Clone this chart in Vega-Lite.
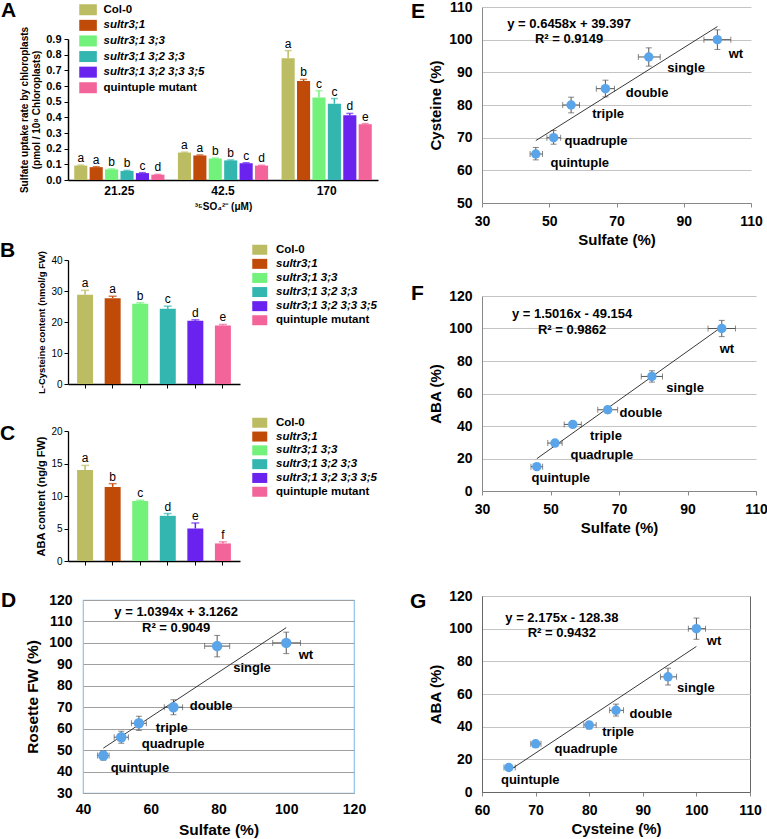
{
"$schema": "https://vega.github.io/schema/vega-lite/v6.json",
"background": "white",
"padding": {"left": 0, "top": 0, "right": 0, "bottom": 0},
"config": {
  "font": "Liberation Sans",
  "view": {"stroke": null},
  "axis": {"labelColor": "black", "titleColor": "black", "domainColor": "black", "tickColor": "black", "grid": false, "labelFont": "Liberation Sans", "titleFont": "Liberation Sans", "labelOverlap": false, "tickCount": 40},
  "title": {"anchor": "start", "frame": "group", "fontSize": 21, "fontWeight": "bold", "baseline": "middle", "offset": 0, "color": "black", "font": "Liberation Sans"},
  "legend": {"padding": 0, "labelFont": "Liberation Sans", "labelColor": "black"},
  "text": {"font": "Liberation Sans"}
},
"datasets": {
  "barsA": [
    {"conc": "21.25", "geno": "Col-0", "v": 0.092, "hi": 0.095, "lab": "a"},
    {"conc": "21.25", "geno": "sultr3;1", "v": 0.082, "hi": 0.085, "lab": "a"},
    {"conc": "21.25", "geno": "sultr3;1 3;3", "v": 0.068, "hi": 0.071, "lab": "b"},
    {"conc": "21.25", "geno": "sultr3;1 3;2 3;3", "v": 0.058, "hi": 0.061, "lab": "b"},
    {"conc": "21.25", "geno": "sultr3;1 3;2 3;3 3;5", "v": 0.044, "hi": 0.047, "lab": "c"},
    {"conc": "21.25", "geno": "quintuple mutant", "v": 0.034, "hi": 0.036, "lab": "d"},
    {"conc": "42.5", "geno": "Col-0", "v": 0.175, "hi": 0.178, "lab": "a"},
    {"conc": "42.5", "geno": "sultr3;1", "v": 0.157, "hi": 0.16, "lab": "a"},
    {"conc": "42.5", "geno": "sultr3;1 3;3", "v": 0.137, "hi": 0.14, "lab": "b"},
    {"conc": "42.5", "geno": "sultr3;1 3;2 3;3", "v": 0.125, "hi": 0.128, "lab": "b"},
    {"conc": "42.5", "geno": "sultr3;1 3;2 3;3 3;5", "v": 0.107, "hi": 0.11, "lab": "c"},
    {"conc": "42.5", "geno": "quintuple mutant", "v": 0.092, "hi": 0.094, "lab": "d"},
    {"conc": "170", "geno": "Col-0", "v": 0.777, "hi": 0.826, "lab": "a"},
    {"conc": "170", "geno": "sultr3;1", "v": 0.632, "hi": 0.642, "lab": "b"},
    {"conc": "170", "geno": "sultr3;1 3;3", "v": 0.527, "hi": 0.57, "lab": "c"},
    {"conc": "170", "geno": "sultr3;1 3;2 3;3", "v": 0.487, "hi": 0.52, "lab": "c"},
    {"conc": "170", "geno": "sultr3;1 3;2 3;3 3;5", "v": 0.413, "hi": 0.425, "lab": "d"},
    {"conc": "170", "geno": "quintuple mutant", "v": 0.356, "hi": 0.36, "lab": "e"}
  ],
  "barsB": [
    {"geno": "Col-0", "v": 28.8, "hi": 30.2, "lab": "a"},
    {"geno": "sultr3;1", "v": 27.7, "hi": 28.3, "lab": "a"},
    {"geno": "sultr3;1 3;3", "v": 25.9, "hi": 26.2, "lab": "b"},
    {"geno": "sultr3;1 3;2 3;3", "v": 24.3, "hi": 25.1, "lab": "c"},
    {"geno": "sultr3;1 3;2 3;3 3;5", "v": 20.4, "hi": 20.7, "lab": "d"},
    {"geno": "quintuple mutant", "v": 18.9, "hi": 19.2, "lab": "e"}
  ],
  "barsC": [
    {"geno": "Col-0", "v": 14.0, "hi": 14.7, "lab": "a"},
    {"geno": "sultr3;1", "v": 11.4, "hi": 11.9, "lab": "b"},
    {"geno": "sultr3;1 3;3", "v": 9.25, "hi": 9.35, "lab": "c"},
    {"geno": "sultr3;1 3;2 3;3", "v": 6.95, "hi": 7.3, "lab": "d"},
    {"geno": "sultr3;1 3;2 3;3 3;5", "v": 5.0, "hi": 5.85, "lab": "e"},
    {"geno": "quintuple mutant", "v": 2.7, "hi": 2.95, "lab": "f"}
  ],
  "dPts": [
    {"name": "wt", "x": 100, "y": 100, "xlo": 96, "xhi": 104.2, "ylo": 95, "yhi": 105, "lx": 105.8, "ly": 94.4},
    {"name": "single", "x": 79.6, "y": 98.5, "xlo": 75.9, "xhi": 83.3, "ylo": 93.5, "yhi": 103.5, "lx": 89.9, "ly": 88.3},
    {"name": "double", "x": 66.7, "y": 70, "xlo": 64, "xhi": 69.4, "ylo": 66.5, "yhi": 73.5, "lx": 77.8, "ly": 70.6},
    {"name": "triple", "x": 56.5, "y": 62.5, "xlo": 54.3, "xhi": 58.7, "ylo": 59.2, "yhi": 65.8, "lx": 66.2, "ly": 60.3},
    {"name": "quadruple", "x": 51.3, "y": 56, "xlo": 49.2, "xhi": 53.4, "ylo": 53.2, "yhi": 58.8, "lx": 66.6, "ly": 52.8},
    {"name": "quintuple", "x": 46, "y": 47.5, "xlo": 44.3, "xhi": 47.7, "ylo": 45.3, "yhi": 49.7, "lx": 56.8, "ly": 41.7}
  ],
  "dTrend": [{"x": 46, "y": 50.9}, {"x": 100, "y": 107.1}],
  "dEq": [{"x": 67.5, "y": 114.4, "t": "y = 1.0394x + 3.1262"}, {"x": 67.5, "y": 106.9, "t": "R² = 0.9049"}],
  "ePts": [
    {"name": "wt", "x": 100, "y": 100, "xlo": 96, "xhi": 104, "ylo": 97, "yhi": 103, "lx": 105.5, "ly": 95.6},
    {"name": "single", "x": 79.6, "y": 94.7, "xlo": 76.5, "xhi": 83, "ylo": 91.9, "yhi": 97.5, "lx": 90.7, "ly": 91.3},
    {"name": "double", "x": 66.7, "y": 85, "xlo": 64, "xhi": 69.4, "ylo": 82.5, "yhi": 87.6, "lx": 79.1, "ly": 83.7},
    {"name": "triple", "x": 56.5, "y": 80, "xlo": 54, "xhi": 59, "ylo": 77.6, "yhi": 82.4, "lx": 67.5, "ly": 77.2},
    {"name": "quadruple", "x": 51.3, "y": 70, "xlo": 49.3, "xhi": 53.4, "ylo": 68, "yhi": 72.2, "lx": 63.9, "ly": 69},
    {"name": "quintuple", "x": 46, "y": 65, "xlo": 44.3, "xhi": 48, "ylo": 63.2, "yhi": 67, "lx": 59.1, "ly": 62.2}
  ],
  "eTrend": [{"x": 46, "y": 69.1}, {"x": 100, "y": 104.0}],
  "eEq": [{"x": 55.9, "y": 104.9, "t": "y = 0.6458x + 39.397"}, {"x": 55.9, "y": 100.3, "t": "R² = 0.9149"}],
  "fPts": [
    {"name": "wt", "x": 100, "y": 100, "xlo": 96, "xhi": 104, "ylo": 95, "yhi": 105, "lx": 101.5, "ly": 87.4},
    {"name": "single", "x": 79.6, "y": 70.5, "xlo": 76.5, "xhi": 82.7, "ylo": 67, "yhi": 74, "lx": 89.3, "ly": 63.4},
    {"name": "double", "x": 66.7, "y": 50, "xlo": 63.8, "xhi": 69.6, "ylo": 48, "yhi": 52, "lx": 76.4, "ly": 48},
    {"name": "triple", "x": 56.5, "y": 41, "xlo": 54, "xhi": 59, "ylo": 39.5, "yhi": 42.5, "lx": 66.2, "ly": 33.8},
    {"name": "quadruple", "x": 51.3, "y": 29.5, "xlo": 49.2, "xhi": 53.4, "ylo": 28, "yhi": 31, "lx": 65, "ly": 22.2},
    {"name": "quintuple", "x": 46, "y": 15, "xlo": 44.3, "xhi": 47.7, "ylo": 14, "yhi": 16, "lx": 53, "ly": 8}
  ],
  "fTrend": [{"x": 46, "y": 19.9}, {"x": 100, "y": 101.0}],
  "fEq": [{"x": 56.3, "y": 108.9, "t": "y = 1.5016x - 49.154"}, {"x": 56.3, "y": 99.1, "t": "R² = 0.9862"}],
  "gPts": [
    {"name": "wt", "x": 100, "y": 100, "xlo": 98.5, "xhi": 101.7, "ylo": 93.5, "yhi": 106.5, "lx": 103.3, "ly": 92.4},
    {"name": "single", "x": 94.7, "y": 70.5, "xlo": 93.3, "xhi": 96.3, "ylo": 65.5, "yhi": 75.8, "lx": 99.9, "ly": 63.7},
    {"name": "double", "x": 85, "y": 50, "xlo": 83.8, "xhi": 86.4, "ylo": 46.5, "yhi": 53.8, "lx": 91.5, "ly": 47.8},
    {"name": "triple", "x": 80, "y": 41, "xlo": 79, "xhi": 81.3, "ylo": 38.6, "yhi": 42.8, "lx": 85.4, "ly": 36.7},
    {"name": "quadruple", "x": 70, "y": 29.5, "xlo": 69.1, "xhi": 71, "ylo": 28.2, "yhi": 30.8, "lx": 79.4, "ly": 26.3},
    {"name": "quintuple", "x": 65, "y": 15, "xlo": 64.1, "xhi": 66.2, "ylo": 14, "yhi": 16, "lx": 69, "ly": 7.3}
  ],
  "gTrend": [{"x": 65, "y": 13.0}, {"x": 100, "y": 89.1}],
  "gEq": [{"x": 74.9, "y": 106.5, "t": "y = 2.175x - 128.38"}, {"x": 74.9, "y": 97.3, "t": "R² = 0.9432"}]
},
"resolve": {"scale": {"color": "independent"}, "legend": {"color": "independent"}},
"columns": 2,
"spacing": 31,
"concat": [
  {
    "columns": 1,
    "spacing": 29,
    "resolve": {"scale": {"color": "independent"}, "legend": {"color": "independent"}},
    "concat": [
      {
        "bounds": "flush",
        "spacing": 31,
        "resolve": {"scale": {"color": "independent"}, "legend": {"color": "independent"}},
        "vconcat": [
          {"width": 1, "height": 1, "data": {"values": []}, "mark": "point"},
          {
            "width": 310, "height": 141,
            "title": {"text": "A", "dx": -67, "dy": 21},
            "data": {"name": "barsA"},
            "encoding": {
              "x": {"field": "conc", "type": "nominal", "sort": ["21.25", "42.5", "170"], "scale": {"paddingInner": 0.13, "paddingOuter": 0.06},
                    "axis": {"title": "³⁵SO₄²⁻ (μM)", "labelAngle": 0, "labelFontSize": 12, "labelFontWeight": "bold", "ticks": false, "titleFontSize": 10, "titleFontWeight": "bold", "labelPadding": 5, "titlePadding": 5, "domainWidth": 1.5}},
              "xOffset": {"field": "geno", "type": "nominal", "sort": ["Col-0", "sultr3;1", "sultr3;1 3;3", "sultr3;1 3;2 3;3", "sultr3;1 3;2 3;3 3;5", "quintuple mutant"], "scale": {"paddingInner": 0.15}},
              "color": {"field": "geno", "type": "nominal",
                        "scale": {"domain": ["Col-0", "sultr3;1", "sultr3;1 3;3", "sultr3;1 3;2 3;3", "sultr3;1 3;2 3;3 3;5", "quintuple mutant"], "range": ["#bcbc62", "#c04a08", "#72f27a", "#34b6b0", "#6a22ee", "#f2649a"]},
                        "legend": {"orient": "none", "legendX": 14.3, "legendY": -35, "title": null, "symbolType": "M-1.6,-1L1.6,-1L1.6,1L-1.6,1Z", "symbolSize": 121, "symbolStrokeWidth": 0, "symbolOpacity": 1, "labelFontSize": 11.5, "labelFontWeight": "bold", "labelFontStyle": {"expr": "indexof(['Col-0','quintuple mutant'], datum.label) >= 0 ? 'normal' : 'italic'"}, "rowPadding": 2.6, "labelOffset": 9.7}}
            },
            "layer": [
              {"mark": {"type": "bar"},
               "encoding": {"y": {"field": "v", "type": "quantitative", "scale": {"domain": [0, 0.9], "nice": false},
                                  "axis": {"title": ["Sulfate uptake rate by chloroplasts", "(pmol / 10⁸ Chloroplasts)"], "values": [0, 0.1, 0.2, 0.3, 0.4, 0.5, 0.6, 0.7, 0.8, 0.9], "format": ".1f", "labelFontSize": 11, "labelFontWeight": "bold", "titleFontSize": 10, "titleFontWeight": "bold", "tickSize": 4, "domainWidth": 1.5, "titlePadding": 4, "labelPadding": 3}}}},
              {"mark": {"type": "rule", "strokeWidth": 1.5},
               "encoding": {"y": {"field": "v", "type": "quantitative"}, "y2": {"field": "hi"}}},
              {"mark": {"type": "tick", "thickness": 1.5, "size": 7},
               "encoding": {"y": {"field": "hi", "type": "quantitative"}}},
              {"mark": {"type": "text", "baseline": "alphabetic", "dy": -3, "fontSize": 12},
               "encoding": {"y": {"field": "hi", "type": "quantitative"}, "text": {"field": "lab"}, "color": {"value": "black"}}}
            ]
          }
        ]
      },
      {
        "columns": 1,
        "spacing": 23,
        "resolve": {"scale": {"color": "independent"}, "legend": {"color": "independent"}},
        "concat": [
          {
            "columns": 1,
            "spacing": 23,
            "resolve": {"scale": {"color": "independent"}, "legend": {"color": "independent"}},
            "concat": [
              {
                "width": 172, "height": 124,
                "title": {"text": "B", "dx": -68, "dy": 21},
                "data": {"name": "barsB"},
                "encoding": {
                  "x": {"field": "geno", "type": "nominal", "sort": ["Col-0", "sultr3;1", "sultr3;1 3;3", "sultr3;1 3;2 3;3", "sultr3;1 3;2 3;3 3;5", "quintuple mutant"], "scale": {"paddingInner": 0.42, "paddingOuter": 0.33},
                        "axis": {"title": null, "labels": false, "ticks": true, "tickSize": 4, "domainWidth": 1.3}},
                  "color": {"field": "geno", "type": "nominal",
                            "scale": {"domain": ["Col-0", "sultr3;1", "sultr3;1 3;3", "sultr3;1 3;2 3;3", "sultr3;1 3;2 3;3 3;5", "quintuple mutant"], "range": ["#bcbc62", "#c04a08", "#72f27a", "#34b6b0", "#6a22ee", "#f2649a"]},
                            "legend": {"orient": "none", "legendX": 186, "legendY": -16, "title": null, "symbolType": "M-1.5,-1L1.5,-1L1.5,1L-1.5,1Z", "symbolSize": 100, "symbolStrokeWidth": 0, "symbolOpacity": 1, "labelFontSize": 11.5, "labelFontWeight": "bold", "labelFontStyle": {"expr": "indexof(['Col-0','quintuple mutant'], datum.label) >= 0 ? 'normal' : 'italic'"}, "rowPadding": 1.1, "labelOffset": 10.5}}
                },
                "layer": [
                  {"mark": {"type": "bar"},
                   "encoding": {"y": {"field": "v", "type": "quantitative", "scale": {"domain": [0, 40], "nice": false},
                                      "axis": {"title": "L-Cysteine content (nmol/g FW)", "values": [0, 10, 20, 30, 40], "format": "d", "labelFontSize": 10, "titleFontSize": 9.5, "titleFontWeight": "bold", "tickSize": 4, "domainWidth": 1.3, "titlePadding": 4, "labelPadding": 2}}}},
                  {"mark": {"type": "rule", "strokeWidth": 1.5},
                   "encoding": {"y": {"field": "v", "type": "quantitative"}, "y2": {"field": "hi"}}},
                  {"mark": {"type": "tick", "thickness": 1.5, "size": 8},
                   "encoding": {"y": {"field": "hi", "type": "quantitative"}}},
                  {"mark": {"type": "text", "baseline": "alphabetic", "dy": -3, "fontSize": 12},
                   "encoding": {"y": {"field": "hi", "type": "quantitative"}, "text": {"field": "lab"}, "color": {"value": "black"}}}
                ]
              },
              {
                "width": 172, "height": 130,
                "title": {"text": "C", "dx": -68, "dy": 31},
                "data": {"name": "barsC"},
                "encoding": {
                  "x": {"field": "geno", "type": "nominal", "sort": ["Col-0", "sultr3;1", "sultr3;1 3;3", "sultr3;1 3;2 3;3", "sultr3;1 3;2 3;3 3;5", "quintuple mutant"], "scale": {"paddingInner": 0.42, "paddingOuter": 0.33},
                        "axis": {"title": null, "labels": false, "ticks": true, "tickSize": 4, "domainWidth": 1.3}},
                  "color": {"field": "geno", "type": "nominal",
                            "scale": {"domain": ["Col-0", "sultr3;1", "sultr3;1 3;3", "sultr3;1 3;2 3;3", "sultr3;1 3;2 3;3 3;5", "quintuple mutant"], "range": ["#bcbc62", "#c04a08", "#72f27a", "#34b6b0", "#6a22ee", "#f2649a"]},
                            "legend": {"orient": "none", "legendX": 186, "legendY": -14, "title": null, "symbolType": "M-1.5,-1L1.5,-1L1.5,1L-1.5,1Z", "symbolSize": 100, "symbolStrokeWidth": 0, "symbolOpacity": 1, "labelFontSize": 11.5, "labelFontWeight": "bold", "labelFontStyle": {"expr": "indexof(['Col-0','quintuple mutant'], datum.label) >= 0 ? 'normal' : 'italic'"}, "rowPadding": 0.8, "labelOffset": 10.5}}
                },
                "layer": [
                  {"mark": {"type": "bar"},
                   "encoding": {"y": {"field": "v", "type": "quantitative", "scale": {"domain": [0, 20], "nice": false},
                                      "axis": {"title": "ABA content (ng/g FW)", "values": [0, 5, 10, 15, 20], "format": "d", "labelFontSize": 10, "titleFontSize": 11, "titleFontWeight": "bold", "tickSize": 4, "domainWidth": 1.3, "titlePadding": 4, "labelPadding": 2}}}},
                  {"mark": {"type": "rule", "strokeWidth": 1.5},
                   "encoding": {"y": {"field": "v", "type": "quantitative"}, "y2": {"field": "hi"}}},
                  {"mark": {"type": "tick", "thickness": 1.5, "size": 8},
                   "encoding": {"y": {"field": "hi", "type": "quantitative"}}},
                  {"mark": {"type": "text", "baseline": "alphabetic", "dy": -3, "fontSize": 12},
                   "encoding": {"y": {"field": "hi", "type": "quantitative"}, "text": {"field": "lab"}, "color": {"value": "black"}}}
                ]
              }
            ]
          },
          {
            "bounds": "flush",
            "spacing": 14,
            "hconcat": [
              {"width": 1, "height": 1, "data": {"values": []}, "mark": "point"},
              {
                "width": 271, "height": 193,
                "title": {"text": "D", "dx": -82, "dy": 22},
                "view": {"stroke": "#8ec3e8", "strokeWidth": 1.2},
                "layer": [
                  {"data": {"name": "dPts"}, "mark": {"type": "rule", "color": "#555", "strokeWidth": 1},
                   "encoding": {
                     "x": {"field": "xlo", "type": "quantitative", "title": "Sulfate (%)", "scale": {"domain": [40, 120], "nice": false, "zero": false},
                           "axis": {"values": [40, 60, 80, 100, 120], "format": "d", "domain": false, "ticks": false, "labelFontSize": 14, "labelFontWeight": "bold", "titleFontSize": 15.5, "titleFontWeight": "bold", "labelPadding": 9, "titlePadding": 6, "labelFlush": false}},
                     "x2": {"field": "xhi"},
                     "y": {"field": "y", "type": "quantitative", "title": "Rosette FW (%)", "scale": {"domain": [30, 120], "nice": false, "zero": false},
                           "axis": {"values": [30, 40, 50, 60, 70, 80, 90, 100, 110, 120], "format": "d", "grid": true, "gridColor": "#a0a0a0", "domain": false, "ticks": false, "labelFontSize": 14, "labelFontWeight": "bold", "titleFontSize": 15.5, "titleFontWeight": "bold", "labelPadding": 11, "titlePadding": 8}}}},
                  {"data": {"name": "dPts"}, "mark": {"type": "rule", "color": "#555", "strokeWidth": 1},
                   "encoding": {"x": {"field": "x", "type": "quantitative", "title": "Sulfate (%)"}, "y": {"field": "ylo", "type": "quantitative", "title": "Rosette FW (%)"}, "y2": {"field": "yhi"}}},
                  {"data": {"name": "dPts"}, "transform": [{"fold": ["xlo", "xhi"], "as": ["k", "v"]}], "mark": {"type": "tick", "orient": "vertical", "color": "#555", "size": 6, "thickness": 1},
                   "encoding": {"x": {"field": "v", "type": "quantitative", "title": "Sulfate (%)"}, "y": {"field": "y", "type": "quantitative", "title": "Rosette FW (%)"}}},
                  {"data": {"name": "dPts"}, "transform": [{"fold": ["ylo", "yhi"], "as": ["k", "v"]}], "mark": {"type": "tick", "orient": "horizontal", "color": "#555", "size": 6, "thickness": 1},
                   "encoding": {"x": {"field": "x", "type": "quantitative", "title": "Sulfate (%)"}, "y": {"field": "v", "type": "quantitative", "title": "Rosette FW (%)"}}},
                  {"data": {"name": "dTrend"}, "mark": {"type": "line", "color": "#222", "strokeWidth": 0.9},
                   "encoding": {"x": {"field": "x", "type": "quantitative", "title": "Sulfate (%)"}, "y": {"field": "y", "type": "quantitative", "title": "Rosette FW (%)"}}},
                  {"data": {"name": "dPts"}, "mark": {"type": "circle", "size": 110, "color": "#5aa5ea", "opacity": 1},
                   "encoding": {"x": {"field": "x", "type": "quantitative", "title": "Sulfate (%)"}, "y": {"field": "y", "type": "quantitative", "title": "Rosette FW (%)"}}},
                  {"data": {"name": "dPts"}, "mark": {"type": "text", "fontSize": 13, "fontWeight": "bold", "align": "center", "baseline": "middle"},
                   "encoding": {"x": {"field": "lx", "type": "quantitative", "title": "Sulfate (%)"}, "y": {"field": "ly", "type": "quantitative", "title": "Rosette FW (%)"}, "text": {"field": "name"}}},
                  {"data": {"name": "dEq"}, "mark": {"type": "text", "fontSize": 13, "fontWeight": "bold", "align": "center", "baseline": "middle"},
                   "encoding": {"x": {"field": "x", "type": "quantitative", "title": "Sulfate (%)"}, "y": {"field": "y", "type": "quantitative", "title": "Rosette FW (%)"}, "text": {"field": "t"}}}
                ]
              }
            ]
          }
        ]
      }
    ]
  },
  {
    "columns": 1,
    "spacing": 36,
    "concat": [
      {
        "width": 269, "height": 196,
        "title": {"text": "E", "dx": -71, "dy": 26},
        "layer": [
          {"data": {"name": "ePts"}, "mark": {"type": "rule", "color": "#555", "strokeWidth": 1},
           "encoding": {
             "x": {"field": "xlo", "type": "quantitative", "title": "Sulfate (%)", "scale": {"domain": [30, 110], "nice": false, "zero": false},
                   "axis": {"values": [30, 50, 70, 90, 110], "format": "d", "domainColor": "#888", "tickColor": "#888", "tickSize": 4, "labelFontSize": 14, "labelFontWeight": "bold", "titleFontSize": 15, "titleFontWeight": "bold", "labelPadding": 7, "titlePadding": 4, "labelFlush": false}},
             "x2": {"field": "xhi"},
             "y": {"field": "y", "type": "quantitative", "title": "Cysteine (%)", "scale": {"domain": [50, 110], "nice": false, "zero": false},
                   "axis": {"values": [50, 60, 70, 80, 90, 100, 110], "format": "d", "grid": true, "gridColor": "#c4c4c4", "domainColor": "#888", "ticks": false, "labelFontSize": 14, "labelFontWeight": "bold", "titleFontSize": 15, "titleFontWeight": "bold", "labelPadding": 10, "titlePadding": 5}}}},
          {"data": {"name": "ePts"}, "mark": {"type": "rule", "color": "#555", "strokeWidth": 1},
           "encoding": {"x": {"field": "x", "type": "quantitative", "title": "Sulfate (%)"}, "y": {"field": "ylo", "type": "quantitative", "title": "Cysteine (%)"}, "y2": {"field": "yhi"}}},
          {"data": {"name": "ePts"}, "transform": [{"fold": ["xlo", "xhi"], "as": ["k", "v"]}], "mark": {"type": "tick", "orient": "vertical", "color": "#555", "size": 6, "thickness": 1},
           "encoding": {"x": {"field": "v", "type": "quantitative", "title": "Sulfate (%)"}, "y": {"field": "y", "type": "quantitative", "title": "Cysteine (%)"}}},
          {"data": {"name": "ePts"}, "transform": [{"fold": ["ylo", "yhi"], "as": ["k", "v"]}], "mark": {"type": "tick", "orient": "horizontal", "color": "#555", "size": 6, "thickness": 1},
           "encoding": {"x": {"field": "x", "type": "quantitative", "title": "Sulfate (%)"}, "y": {"field": "v", "type": "quantitative", "title": "Cysteine (%)"}}},
          {"data": {"name": "eTrend"}, "mark": {"type": "line", "color": "#222", "strokeWidth": 0.9},
           "encoding": {"x": {"field": "x", "type": "quantitative", "title": "Sulfate (%)"}, "y": {"field": "y", "type": "quantitative", "title": "Cysteine (%)"}}},
          {"data": {"name": "ePts"}, "mark": {"type": "circle", "size": 90, "color": "#5aa5ea", "opacity": 1},
           "encoding": {"x": {"field": "x", "type": "quantitative", "title": "Sulfate (%)"}, "y": {"field": "y", "type": "quantitative", "title": "Cysteine (%)"}}},
          {"data": {"name": "ePts"}, "mark": {"type": "text", "fontSize": 13, "fontWeight": "bold", "align": "center", "baseline": "middle"},
           "encoding": {"x": {"field": "lx", "type": "quantitative", "title": "Sulfate (%)"}, "y": {"field": "ly", "type": "quantitative", "title": "Cysteine (%)"}, "text": {"field": "name"}}},
          {"data": {"name": "eEq"}, "mark": {"type": "text", "fontSize": 13, "fontWeight": "bold", "align": "center", "baseline": "middle"},
           "encoding": {"x": {"field": "x", "type": "quantitative", "title": "Sulfate (%)"}, "y": {"field": "y", "type": "quantitative", "title": "Cysteine (%)"}, "text": {"field": "t"}}}
        ]
      },
      {
        "width": 274, "height": 195,
        "title": {"text": "F", "dx": -71, "dy": 19},
        "layer": [
          {"data": {"name": "fPts"}, "mark": {"type": "rule", "color": "#555", "strokeWidth": 1},
           "encoding": {
             "x": {"field": "xlo", "type": "quantitative", "title": "Sulfate (%)", "scale": {"domain": [30, 110], "nice": false, "zero": false},
                   "axis": {"values": [30, 50, 70, 90, 110], "format": "d", "domainColor": "#888", "tickColor": "#888", "tickSize": 4, "labelFontSize": 14, "labelFontWeight": "bold", "titleFontSize": 15, "titleFontWeight": "bold", "labelPadding": 7, "titlePadding": 4, "labelFlush": false}},
             "x2": {"field": "xhi"},
             "y": {"field": "y", "type": "quantitative", "title": "ABA (%)", "scale": {"domain": [0, 120], "nice": false, "zero": false},
                   "axis": {"values": [0, 20, 40, 60, 80, 100, 120], "format": "d", "grid": true, "gridColor": "#c4c4c4", "domainColor": "#888", "ticks": false, "labelFontSize": 14, "labelFontWeight": "bold", "titleFontSize": 15, "titleFontWeight": "bold", "labelPadding": 10, "titlePadding": 5}}}},
          {"data": {"name": "fPts"}, "mark": {"type": "rule", "color": "#555", "strokeWidth": 1},
           "encoding": {"x": {"field": "x", "type": "quantitative", "title": "Sulfate (%)"}, "y": {"field": "ylo", "type": "quantitative", "title": "ABA (%)"}, "y2": {"field": "yhi"}}},
          {"data": {"name": "fPts"}, "transform": [{"fold": ["xlo", "xhi"], "as": ["k", "v"]}], "mark": {"type": "tick", "orient": "vertical", "color": "#555", "size": 6, "thickness": 1},
           "encoding": {"x": {"field": "v", "type": "quantitative", "title": "Sulfate (%)"}, "y": {"field": "y", "type": "quantitative", "title": "ABA (%)"}}},
          {"data": {"name": "fPts"}, "transform": [{"fold": ["ylo", "yhi"], "as": ["k", "v"]}], "mark": {"type": "tick", "orient": "horizontal", "color": "#555", "size": 6, "thickness": 1},
           "encoding": {"x": {"field": "x", "type": "quantitative", "title": "Sulfate (%)"}, "y": {"field": "v", "type": "quantitative", "title": "ABA (%)"}}},
          {"data": {"name": "fTrend"}, "mark": {"type": "line", "color": "#222", "strokeWidth": 0.9},
           "encoding": {"x": {"field": "x", "type": "quantitative", "title": "Sulfate (%)"}, "y": {"field": "y", "type": "quantitative", "title": "ABA (%)"}}},
          {"data": {"name": "fPts"}, "mark": {"type": "circle", "size": 90, "color": "#5aa5ea", "opacity": 1},
           "encoding": {"x": {"field": "x", "type": "quantitative", "title": "Sulfate (%)"}, "y": {"field": "y", "type": "quantitative", "title": "ABA (%)"}}},
          {"data": {"name": "fPts"}, "mark": {"type": "text", "fontSize": 13, "fontWeight": "bold", "align": "center", "baseline": "middle"},
           "encoding": {"x": {"field": "lx", "type": "quantitative", "title": "Sulfate (%)"}, "y": {"field": "ly", "type": "quantitative", "title": "ABA (%)"}, "text": {"field": "name"}}},
          {"data": {"name": "fEq"}, "mark": {"type": "text", "fontSize": 13, "fontWeight": "bold", "align": "center", "baseline": "middle"},
           "encoding": {"x": {"field": "x", "type": "quantitative", "title": "Sulfate (%)"}, "y": {"field": "y", "type": "quantitative", "title": "ABA (%)"}, "text": {"field": "t"}}}
        ]
      },
      {
        "width": 268, "height": 196,
        "title": {"text": ["", "G"], "dx": -72, "dy": 27, "lineHeight": 19},
        "view": {"stroke": "#666", "strokeWidth": 1},
        "layer": [
          {"data": {"name": "gPts"}, "mark": {"type": "rule", "color": "#555", "strokeWidth": 1},
           "encoding": {
             "x": {"field": "xlo", "type": "quantitative", "title": "Cysteine (%)", "scale": {"domain": [60, 110], "nice": false, "zero": false},
                   "axis": {"values": [60, 70, 80, 90, 100, 110], "format": "d", "domainColor": "#666", "tickColor": "#888", "tickSize": 4, "labelFontSize": 14, "labelFontWeight": "bold", "titleFontSize": 15, "titleFontWeight": "bold", "labelPadding": 7, "titlePadding": 4, "labelFlush": false}},
             "x2": {"field": "xhi"},
             "y": {"field": "y", "type": "quantitative", "title": "ABA (%)", "scale": {"domain": [0, 120], "nice": false, "zero": false},
                   "axis": {"values": [0, 20, 40, 60, 80, 100, 120], "format": "d", "grid": true, "gridColor": "#c4c4c4", "domainColor": "#666", "ticks": false, "labelFontSize": 14, "labelFontWeight": "bold", "titleFontSize": 15, "titleFontWeight": "bold", "labelPadding": 10, "titlePadding": 5}}}},
          {"data": {"name": "gPts"}, "mark": {"type": "rule", "color": "#555", "strokeWidth": 1},
           "encoding": {"x": {"field": "x", "type": "quantitative", "title": "Cysteine (%)"}, "y": {"field": "ylo", "type": "quantitative", "title": "ABA (%)"}, "y2": {"field": "yhi"}}},
          {"data": {"name": "gPts"}, "transform": [{"fold": ["xlo", "xhi"], "as": ["k", "v"]}], "mark": {"type": "tick", "orient": "vertical", "color": "#555", "size": 6, "thickness": 1},
           "encoding": {"x": {"field": "v", "type": "quantitative", "title": "Cysteine (%)"}, "y": {"field": "y", "type": "quantitative", "title": "ABA (%)"}}},
          {"data": {"name": "gPts"}, "transform": [{"fold": ["ylo", "yhi"], "as": ["k", "v"]}], "mark": {"type": "tick", "orient": "horizontal", "color": "#555", "size": 6, "thickness": 1},
           "encoding": {"x": {"field": "x", "type": "quantitative", "title": "Cysteine (%)"}, "y": {"field": "v", "type": "quantitative", "title": "ABA (%)"}}},
          {"data": {"name": "gTrend"}, "mark": {"type": "line", "color": "#222", "strokeWidth": 0.9},
           "encoding": {"x": {"field": "x", "type": "quantitative", "title": "Cysteine (%)"}, "y": {"field": "y", "type": "quantitative", "title": "ABA (%)"}}},
          {"data": {"name": "gPts"}, "mark": {"type": "circle", "size": 90, "color": "#5aa5ea", "opacity": 1},
           "encoding": {"x": {"field": "x", "type": "quantitative", "title": "Cysteine (%)"}, "y": {"field": "y", "type": "quantitative", "title": "ABA (%)"}}},
          {"data": {"name": "gPts"}, "mark": {"type": "text", "fontSize": 13, "fontWeight": "bold", "align": "center", "baseline": "middle"},
           "encoding": {"x": {"field": "lx", "type": "quantitative", "title": "Cysteine (%)"}, "y": {"field": "ly", "type": "quantitative", "title": "ABA (%)"}, "text": {"field": "name"}}},
          {"data": {"name": "gEq"}, "mark": {"type": "text", "fontSize": 13, "fontWeight": "bold", "align": "center", "baseline": "middle"},
           "encoding": {"x": {"field": "x", "type": "quantitative", "title": "Cysteine (%)"}, "y": {"field": "y", "type": "quantitative", "title": "ABA (%)"}, "text": {"field": "t"}}}
        ]
      }
    ]
  }
]
}
